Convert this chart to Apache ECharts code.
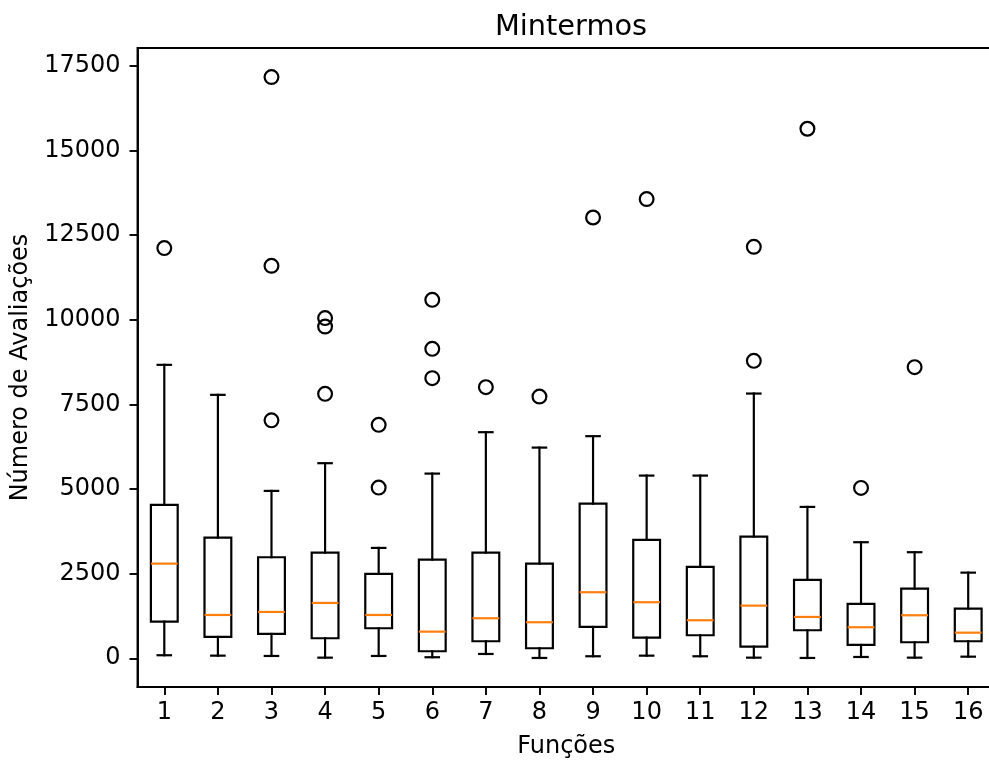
<!DOCTYPE html>
<html>
<head>
<meta charset="utf-8">
<title>Mintermos</title>
<script src="https://cdn.jsdelivr.net/npm/echarts@6/dist/echarts.min.js"></script>
<style>
  html, body { margin: 0; padding: 0; background: #ffffff; }
  #chart { width: 989px; height: 760px; }
</style>
</head>
<body>
<div id="chart"></div>
<script>
// Distribution of evaluation counts for each of the 16 functions
const categories = ['1','2','3','4','5','6','7','8','9','10','11','12','13','14','15','16'];

const whiskerLow  = [89, 77, 68, 18, 68, 30, 127, 9, 59, 77, 59, 18, 9, 38, 18, 47];
const quartile1   = [1081, 629, 718, 591, 886, 207, 502, 295, 925, 609, 680, 343, 827, 393, 473, 502];
const medians     = [2795, 1279, 1368, 1634, 1279, 786, 1182, 1064, 1950, 1655, 1123, 1554, 1220, 916, 1270, 756];
const quartile3   = [4530, 3563, 2984, 3120, 2491, 2913, 3120, 2795, 4568, 3495, 2698, 3593, 2313, 1604, 2056, 1465];
const whiskerHigh = [8666, 7780, 4943, 5761, 3259, 5454, 6677, 6222, 6559, 5395, 5395, 7818, 4470, 3427, 3132, 2529];

// [function label, value] for each flier
const outliers = [
  ['1', 12114],
  ['3', 7027], ['3', 11591], ['3', 17166],
  ['4', 7809], ['4', 9797], ['4', 10046],
  ['5', 5041], ['5', 6893],
  ['6', 8273], ['6', 9139], ['6', 10586],
  ['7', 8007],
  ['8', 7729],
  ['9', 13018],
  ['10', 13562],
  ['12', 8784], ['12', 12152],
  ['13', 15639],
  ['14', 5032],
  ['15', 8598]
];

const yTicks = [0, 2500, 5000, 7500, 10000, 12500, 15000, 17500];

// axis limits with a 5% margin around all drawn values
const allValues = whiskerLow.concat(whiskerHigh, outliers.map(o => o[1]));
const dataLo = Math.min.apply(null, allValues);
const dataHi = Math.max.apply(null, allValues);
const pad = 0.05 * (dataHi - dataLo);

const FONT = 'DejaVu Sans';
const LINE = 2.2;   // box, whisker, cap, median and marker edges
const SPINE = 1.9;  // frame and ticks
const TEXT = 24;

const boxData = categories.map((c, i) => [i, whiskerLow[i], quartile1[i], medians[i], quartile3[i], whiskerHigh[i]]);
const flierData = outliers.map(o => [categories.indexOf(o[0]), o[1]]);

function renderBox(params, api) {
  const idx = api.value(0);
  const pLow = api.coord([idx, api.value(1)]);
  const pQ1 = api.coord([idx, api.value(2)]);
  const pMed = api.coord([idx, api.value(3)]);
  const pQ3 = api.coord([idx, api.value(4)]);
  const pHigh = api.coord([idx, api.value(5)]);
  const band = api.size([1, 0])[0];
  const cx = pMed[0];
  const hw = band * 0.25;   // box spans half the band
  const cw = band * 0.125;  // caps span a quarter of the band
  const stroke = { stroke: '#000000', lineWidth: LINE, fill: null, lineCap: 'square' };
  return {
    type: 'group',
    children: [
      { type: 'rect', shape: { x: cx - hw, y: pQ3[1], width: 2 * hw, height: pQ1[1] - pQ3[1] },
        style: { stroke: '#000000', lineWidth: LINE, fill: 'rgba(0,0,0,0)' } },
      { type: 'line', shape: { x1: cx, y1: pQ3[1], x2: cx, y2: pHigh[1] }, style: stroke },
      { type: 'line', shape: { x1: cx, y1: pQ1[1], x2: cx, y2: pLow[1] }, style: stroke },
      { type: 'line', shape: { x1: cx - cw, y1: pHigh[1], x2: cx + cw, y2: pHigh[1] }, style: stroke },
      { type: 'line', shape: { x1: cx - cw, y1: pLow[1], x2: cx + cw, y2: pLow[1] }, style: stroke },
      { type: 'line', shape: { x1: cx - hw, y1: pMed[1], x2: cx + hw, y2: pMed[1] },
        style: { stroke: '#ff7f0e', lineWidth: LINE, fill: null } }
    ]
  };
}

const chart = echarts.init(document.getElementById('chart'), null, { renderer: 'canvas' });

chart.setOption({
  animation: false,
  backgroundColor: '#ffffff',
  title: {
    text: 'Mintermos',
    left: 566,
    top: 8,
    textAlign: 'center',
    textStyle: { fontFamily: FONT, fontSize: 28.8, fontWeight: 'normal', color: '#000000' }
  },
  grid: {
    left: 137.5,
    top: 48,
    right: -6,
    bottom: 73,
    containLabel: false,
    outerBoundsMode: 'none',
    show: true,
    borderColor: '#000000',
    borderWidth: SPINE,
    backgroundColor: 'rgba(0,0,0,0)'
  },
  xAxis: {
    type: 'category',
    data: categories,
    boundaryGap: true,
    name: 'Funções',
    nameLocation: 'middle',
    nameGap: 48,
    nameTextStyle: { fontFamily: FONT, fontSize: TEXT, color: '#000000' },
    axisLine: { show: true, onZero: false, lineStyle: { color: '#000000', width: SPINE } },
    axisTick: { show: true, alignWithLabel: true, length: 8, lineStyle: { color: '#000000', width: SPINE } },
    axisLabel: { fontFamily: FONT, fontSize: TEXT, color: '#000000', margin: 14 },
    splitLine: { show: false }
  },
  yAxis: {
    type: 'value',
    min: dataLo - pad,
    max: dataHi + pad,
    name: 'Número de Avaliações',
    nameLocation: 'middle',
    nameGap: 92,
    nameTextStyle: { fontFamily: FONT, fontSize: TEXT, color: '#000000' },
    axisLine: { show: true, onZero: false, lineStyle: { color: '#000000', width: SPINE } },
    axisTick: { show: true, length: 8, customValues: yTicks, lineStyle: { color: '#000000', width: SPINE } },
    axisLabel: {
      fontFamily: FONT, fontSize: TEXT, color: '#000000', margin: 17,
      customValues: yTicks,
      formatter: v => String(Math.round(v))
    },
    splitLine: { show: false }
  },
  series: [
    {
      type: 'custom',
      renderItem: renderBox,
      data: boxData,
      encode: { x: 0, y: [1, 2, 3, 4, 5] },
      z: 2
    },
    {
      type: 'scatter',
      data: flierData,
      symbol: 'circle',
      symbolSize: 13.8,
      itemStyle: { color: 'rgba(0,0,0,0)', borderColor: '#000000', borderWidth: LINE, opacity: 1 },
      z: 3
    }
  ]
});
</script>
</body>
</html>
